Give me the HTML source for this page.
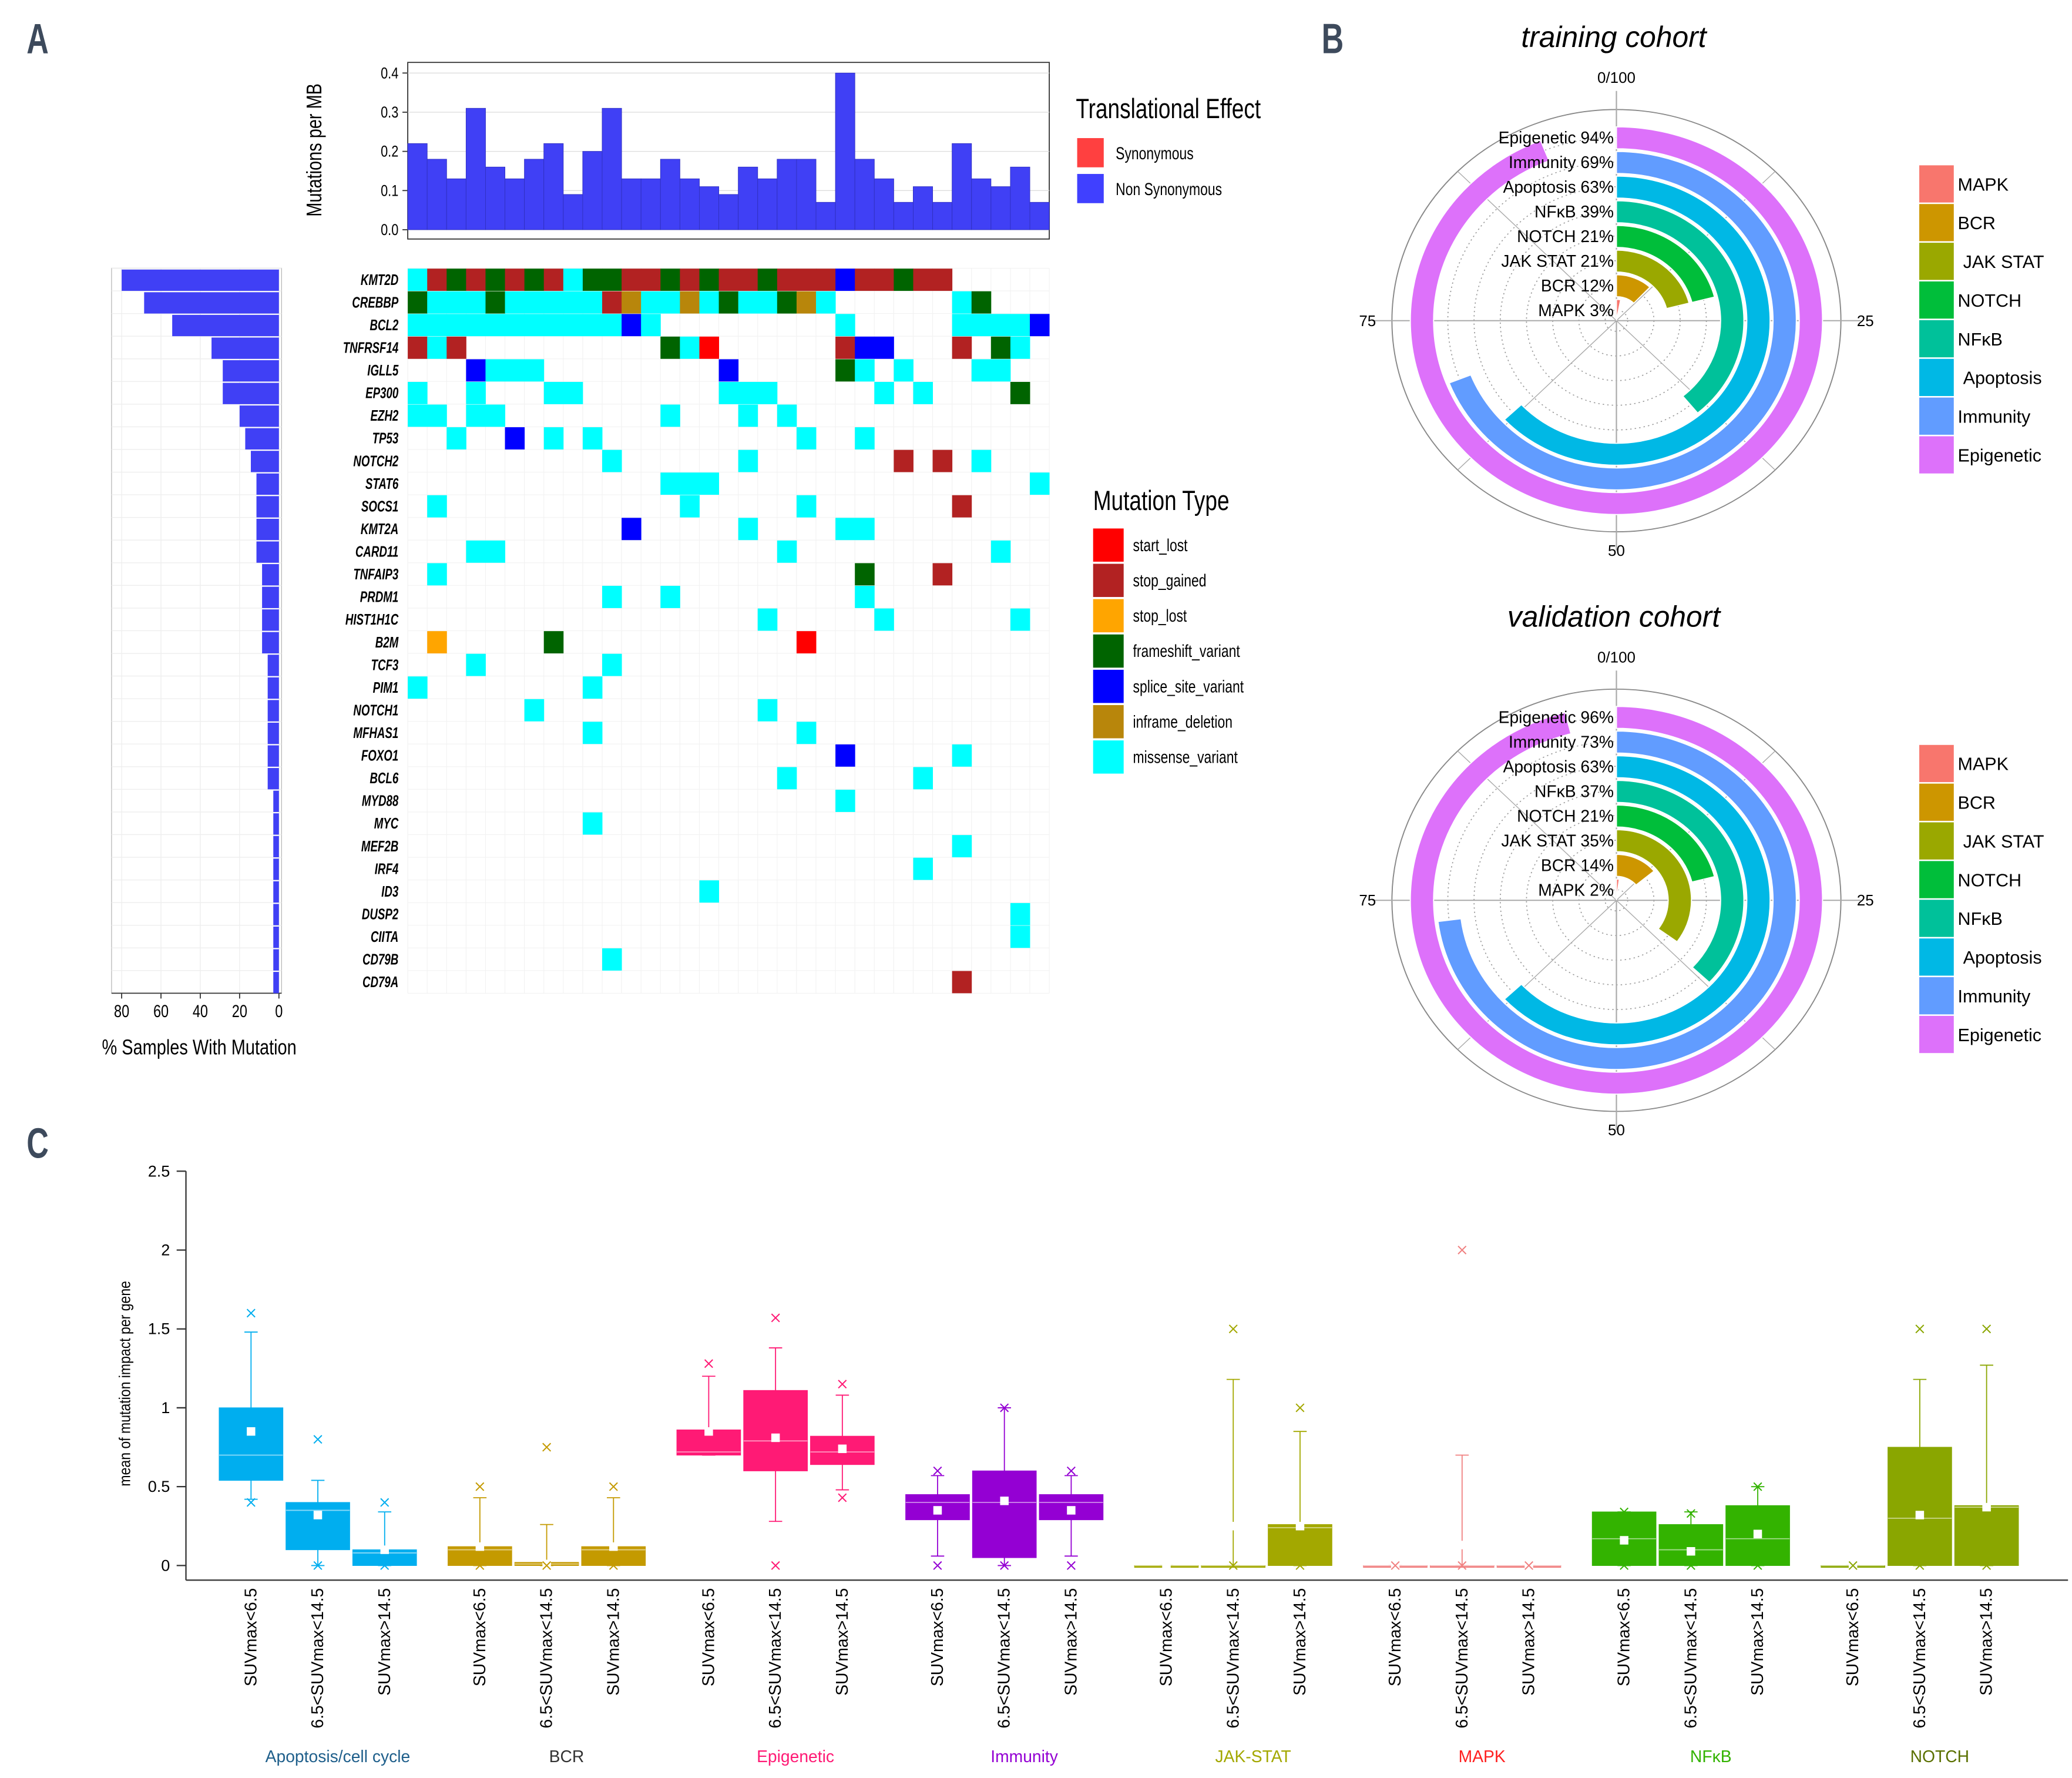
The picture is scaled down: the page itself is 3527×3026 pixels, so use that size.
<!DOCTYPE html>
<html><head><meta charset="utf-8"><style>
html,body{margin:0;padding:0;background:#fff}
svg{display:block}
text{font-family:"Liberation Sans",sans-serif}
</style></head><body>
<svg id="fig" xmlns="http://www.w3.org/2000/svg" width="3527" height="3026" viewBox="0 0 1560 1339" preserveAspectRatio="none">
<g fill="#3d4a5c" font-weight="bold" font-size="32">
<text transform="translate(20,40) scale(0.72,1)">A</text>
<text transform="translate(995,40) scale(0.72,1)">B</text>
<text transform="translate(20,872) scale(0.72,1)">C</text>
</g>
<g id="pA"></g>
<g id="pB"></g>
<g id="pC"></g>
</svg>
<script>
// ---------- Panel A data ----------
const genes=["KMT2D","CREBBP","BCL2","TNFRSF14","IGLL5","EP300","EZH2","TP53","NOTCH2","STAT6","SOCS1","KMT2A","CARD11","TNFAIP3","PRDM1","HIST1H1C","B2M","TCF3","PIM1","NOTCH1","MFHAS1","FOXO1","BCL6","MYD88","MYC","MEF2B","IRF4","ID3","DUSP2","CIITA","CD79B","CD79A"];
const mutRows=[
"MSFSFSFSMFFSSFSFSSFSSSPSSFSS.....",
"FMMMFMMMMMSIMMIMFMMFIM......MF...",
"MMMMMMMMMMMPM.........M.....MMMMP",
"SMS..........FML......SPP...S.FM.",
"...PMMM.........P.....FM.M...MM..",
"M..M...MM.......MMM.....M.M....F.",
"MM.MM........M...M.M.............",
"..M..P.M.M..........M..M.........",
"..........M......M.......S.S.M...",
".............MMM................M",
".M............M.....M.......S....",
"...........P.....M....MM.........",
"...MM..............M..........M..",
".M.....................F...S.....",
"..........M..M.........M.........",
"..................M.....M......M.",
".O.....F............L............",
"...M......M......................",
"M........M.......................",
"......M...........M..............",
".........M..........M............",
"......................P.....M....",
"...................M......M......",
"......................M..........",
".........M.......................",
"............................M....",
"..........................M......",
"...............M.................",
"...............................M.",
"...............................M.",
"..........M......................",
"............................S...."];
const tmbValues=[0.22,0.18,0.13,0.31,0.16,0.13,0.18,0.22,0.09,0.2,0.31,0.13,0.13,0.18,0.13,0.11,0.09,0.16,0.13,0.18,0.18,0.07,0.4,0.18,0.13,0.07,0.11,0.07,0.22,0.13,0.11,0.16,0.07];
const tmbTicks=[0.0,0.1,0.2,0.3,0.4];
const pctTicks=[80,60,40,20,0];
const nSamples=35;
const mutTypes=["start_lost","stop_gained","stop_lost","frameshift_variant","splice_site_variant","inframe_deletion","missense_variant"];
const mutCodes=["L","S","O","F","P","I","M"];
const mutColors=["#ff0000","#b22222","#ffa500","#006400","#0000ff","#b8860b","#00ffff"];

// ---------- Panel B data ----------
const pathways=["MAPK","BCR","JAK STAT","NOTCH","NFκB","Apoptosis","Immunity","Epigenetic"];
const pathColors=["#f8766d","#cd9600","#9aa800","#00be3a","#00c19a","#00b8e5","#619cff","#dd71fa"];
const trainingPct=[3,12,21,21,39,63,69,94];
const validationPct=[2,14,35,21,37,63,73,96];

// ---------- Panel C data ----------
const groups=["Apoptosis/cell cycle","BCR","Epigenetic","Immunity","JAK-STAT","MAPK","NFκB","NOTCH"];
const groupColors=["#00aeef","#c49a00","#ff1a75","#9400d3","#a3a800","#f08080","#33b300","#8aa600"];
const groupTextColors=["#1f5f8b","#333333","#ff1a75","#9400d3","#a3a800","#ff2020","#33b300","#5a7000"];
const subgroups=["SUVmax<6.5","6.5<SUVmax<14.5","SUVmax>14.5"];
const boxQ1=[0.54,0.1,0,  0,0,0,  0.7,0.6,0.64,  0.29,0.05,0.29,  0,0,0,  0,0,0,  0,0,0,  0,0,0];
const boxMed=[0.7,0.35,0.08,  0.1,0.01,0.1,  0.72,0.79,0.72,  0.4,0.4,0.4,  0,0,0.24,  0,0,0,  0.17,0.1,0.17,  0,0.3,0.37];
const boxQ3=[1.0,0.4,0.1,  0.12,0.02,0.12,  0.86,1.11,0.82,  0.45,0.6,0.45,  0,0,0.26,  0,0,0,  0.34,0.26,0.38,  0,0.75,0.38];
const whiskLo=[0.42,0,0,  0,0,0,  0.7,0.28,0.48,  0.06,0,0.06,  0,0,0,  0,0,0,  0,0,0,  0,0,0];
const whiskHi=[1.48,0.54,0.34,  0.43,0.26,0.43,  1.2,1.38,1.08,  0.57,1.0,0.57,  0,1.18,0.85,  0,0.7,0,  0.34,0.34,0.5,  0,1.18,1.27];
const boxMean=[0.85,0.32,0.1,  0.12,0.01,0.12,  0.85,0.81,0.74,  0.35,0.41,0.35,  0,0.25,0.25,  0,0.13,0,  0.16,0.09,0.2,  0,0.32,0.37];
const outHi=[1.6,0.8,0.4,  0.5,0.75,0.5,  1.28,1.57,1.15,  0.6,1.0,0.6,  null,1.5,1.0,  null,2.0,null,  0.34,0.33,0.5,  null,1.5,1.5];
const outLo=[0.4,0,0,  0,0,0,  null,0,0.43,  0,0,0,  null,0,0,  0,0,0,  0,0,0,  0,0,0];
const yTicksC=[0,0.5,1,1.5,2,2.5];

const NS="http://www.w3.org/2000/svg";
function mk(parent,tag,attrs,txt){const e=document.createElementNS(NS,tag);for(const k in attrs)e.setAttribute(k,attrs[k]);if(txt!==undefined)e.textContent=txt;parent.appendChild(e);return e;}
// narrow text: horizontally condensed
function mkN(parent,x,y,attrs,txt,sx,rot){attrs=Object.assign({},attrs);attrs.x=0;attrs.y=0;attrs.transform=`translate(${x},${y})`+(rot?` rotate(${rot})`:'')+` scale(${sx||0.8},1)`;return mk(parent,'text',attrs,txt);}

// ================= PANEL A =================
(function(){
const g=document.getElementById('pA');
const gx0=307,gx1=790,gy0=202,gy1=748,nC=33,nR=genes.length;
const cw=(gx1-gx0)/nC, rh=(gy1-gy0)/nR;
const ty0=173, tyS=295; const ty=v=>ty0-v*tyS;
let frame=mk(g,'rect',{x:gx0,y:47,width:gx1-gx0,height:133,fill:'#fff',stroke:'#333','stroke-width':0.8});

tmbTicks.forEach(t=>{
 let l=mk(g,'line',{x1:gx0,x2:gx1,y1:ty(t),y2:ty(t),stroke:'#ddd','stroke-width':0.6});
 
 let tk=mk(g,'line',{x1:gx0-4,x2:gx0,y1:ty(t),y2:ty(t),stroke:'#333','stroke-width':0.8});
 
 let tx=mkN(g,gx0-7,ty(t)+4,{'font-size':12,'text-anchor':'end'},t.toFixed(1),0.8);
 
});
tmbValues.forEach((v,i)=>{
 let b=mk(g,'rect',{x:gx0+i*cw,y:ty(v),width:cw,height:v*tyS,fill:'#4040f5',stroke:'#3030c0','stroke-width':0.4});
 
});
let yl=mkN(g,242,113,{'font-size':16,'text-anchor':'middle'},'Mutations per MB',0.8,-90);


for(let r=0;r<=nR;r++){let l=mk(g,'line',{x1:gx0,x2:gx1,y1:gy0+r*rh,y2:gy0+r*rh,stroke:'#f2f2f2','stroke-width':0.5});}
for(let c=0;c<=nC;c++){let l=mk(g,'line',{x1:gx0+c*cw,x2:gx0+c*cw,y1:gy0,y2:gy1,stroke:'#f2f2f2','stroke-width':0.5});}
const counts=[];
mutRows.forEach((row,r)=>{
 let n=0;
 for(let c=0;c<nC;c++){
  const ch=row[c]||'.'; const k=mutCodes.indexOf(ch);
  if(k<0)continue; n++;
  let cell=mk(g,'rect',{x:gx0+c*cw,y:gy0+r*rh+0.3,width:cw+0.2,height:rh-0.3,fill:mutColors[k]});
  
 }
 counts.push(n);
 let gl=mkN(g,gx0-7,gy0+r*rh+rh/2+4,{'font-size':11.5,'text-anchor':'end','font-style':'italic','font-weight':'bold'},genes[r],0.72);
 
});
const lx0=210, lxS=1.48, lx=v=>lx0-v*lxS;
let lf=mk(g,'rect',{x:84,y:gy0,width:128,height:gy1-gy0,fill:'#fff',stroke:'#bbb','stroke-width':0.6});

for(let r=0;r<=nR;r++){let l=mk(g,'line',{x1:84,x2:212,y1:gy0+r*rh,y2:gy0+r*rh,stroke:'#eee','stroke-width':0.6});}
pctTicks.forEach(t=>{
 let l=mk(g,'line',{x1:lx(t),x2:lx(t),y1:gy0,y2:gy1,stroke:'#eee','stroke-width':0.6});
 let tk=mk(g,'line',{x1:lx(t),x2:lx(t),y1:gy1,y2:gy1+4,stroke:'#333','stroke-width':0.8});
 let tx=mkN(g,lx(t),gy1+18,{'font-size':13,'text-anchor':'middle'},String(t),0.8);
});
let ax=mk(g,'line',{x1:84,x2:212,y1:gy1,y2:gy1,stroke:'#333','stroke-width':0.8});
counts.forEach((n,r)=>{
 const p=n/nSamples*100;
 let b=mk(g,'rect',{x:lx(p),y:gy0+r*rh+1,width:p*lxS,height:rh-1,fill:'#4040f5'});
 
});
let pt=mkN(g,150,794,{'font-size':16,'text-anchor':'middle'},'% Samples With Mutation',0.8);

let l1=mkN(g,810,89,{'font-size':21},'Translational Effect',0.78);
[["Synonymous","#ff4040",104],["Non Synonymous","#4040ff",131]].forEach(e=>{
 let s=mk(g,'rect',{x:811,y:e[2],width:20,height:22,fill:e[1]});
 let t=mkN(g,840,e[2]+16,{'font-size':13},e[0],0.78);
});
let l2=mkN(g,823,384,{'font-size':21},'Mutation Type',0.78);
mutTypes.forEach((m,i)=>{
 const y=398+i*26.6;
 let s=mk(g,'rect',{x:823,y:y,width:23,height:25,fill:mutColors[i]});
 let t=mkN(g,853,y+17,{'font-size':13},m,0.78);
});
})();

// ================= PANEL B =================
function polar(cy,vals,title){
 const g=document.getElementById('pB');
 const cx=1217, sx=1.063, R=159;
 const wrap=mk(g,'g',{});
 let tt=mk(wrap,'text',{x:1215,y:cy-206,'font-size':22,'font-style':'italic','text-anchor':'middle','font-family':'DejaVu Sans, sans-serif'},title);
 
 const pg=mk(wrap,'g',{transform:`translate(${cx},${cy}) scale(${sx},1)`});
 
 let oc=mk(pg,'circle',{cx:0,cy:0,r:R,fill:'none',stroke:'#888','stroke-width':0.8});
 const outer=i=>16+i*18.57, inner=i=>Math.max(0.5,outer(i)-16.5);
 for(let i=0;i<8;i++){let c=mk(pg,'circle',{cx:0,cy:0,r:outer(i)-8,fill:'none',stroke:'#999','stroke-width':0.7,'stroke-dasharray':'1 2.2'});}
 for(let k=0;k<8;k++){const a=k*Math.PI/4;let l=mk(pg,'line',{x1:0,y1:0,x2:Math.sin(a)*(R+(k%2?0:14)),y2:-Math.cos(a)*(R+(k%2?0:14)),stroke:'#aaa','stroke-width':k%2?0.6:0.9});}
 vals.forEach((v,i)=>{
  const a=v/100*2*Math.PI, ro=outer(i), ri=inner(i), lg=v>50?1:0;
  const p=`M0,${-ro} A${ro},${ro} 0 ${lg} 1 ${ro*Math.sin(a)},${-ro*Math.cos(a)} L${ri*Math.sin(a)},${-ri*Math.cos(a)} A${ri},${ri} 0 ${lg} 0 0,${-ri} Z`;
  let arc=mk(pg,'path',{d:p,fill:pathColors[i],stroke:'#fff','stroke-width':0.8});
  
  let lb=mk(wrap,'text',{x:1215,y:cy-(outer(i)-8)+4.5,'font-size':12.5,'text-anchor':'end','font-family':'DejaVu Sans, sans-serif'},pathways[i]+' '+v+'%');
  
 });
 [["0/100",cx,cy-R-20,'middle'],["25",cx+R*sx+12,cy+4,'start'],["50",cx,cy+R+18,'middle'],["75",cx-R*sx-12,cy+4,'end']].forEach(t=>{
  let e=mk(wrap,'text',{x:t[1],y:t[2],'font-size':11.5,'text-anchor':t[3],'font-family':'DejaVu Sans, sans-serif'},t[0]);
  
 });
 const ly=cy-117;
 for(let i=0;i<8;i++){
  let s=mk(wrap,'rect',{x:1445,y:ly+i*29.15,width:26,height:28,fill:pathColors[i]});
  let t=mk(wrap,'text',{x:(i==2||i==5)?1478:1474,y:ly+i*29.15+19,'font-size':13.5,'font-family':'DejaVu Sans, sans-serif'},pathways[i]);
 }
}
polar(241.5,trainingPct,'training cohort');
polar(678,validationPct,'validation cohort');

// ================= PANEL C =================
(function(){
 const g=document.getElementById('pC');
 const y0=1179, yS=118.8, Y=v=>y0-v*yS;
 const X=(gi,si)=>189+gi*172.3+si*50.3;
 let ya=mk(g,'line',{x1:140,x2:140,y1:Y(2.5),y2:1190,stroke:'#333','stroke-width':1});
 let xa=mk(g,'line',{x1:140,x2:1557,y1:1190,y2:1190,stroke:'#333','stroke-width':1});
 yTicksC.forEach(t=>{
  let tk=mk(g,'line',{x1:133,x2:140,y1:Y(t),y2:Y(t),stroke:'#333','stroke-width':1});
  let tx=mk(g,'text',{x:128,y:Y(t)+4,'font-size':12,'text-anchor':'end'},String(t));
 });
 let yt=mkN(g,98,1042,{'font-size':12,'text-anchor':'middle'},'mean of mutation impact per gene',0.85,-90);
 
 const hw=24;
 groups.forEach((gn,gi)=>{
  const col=groupColors[gi];
  subgroups.forEach((sn,si)=>{
   const k=gi*3+si, x=X(gi,si);
   const bg=mk(g,'g',{});
   let w1=mk(bg,'line',{x1:x,x2:x,y1:Y(boxQ3[k]),y2:Y(whiskHi[k]),stroke:col,'stroke-width':0.8});
   let c1=mk(bg,'line',{x1:x-5,x2:x+5,y1:Y(whiskHi[k]),y2:Y(whiskHi[k]),stroke:col,'stroke-width':0.8});
   let w2=mk(bg,'line',{x1:x,x2:x,y1:Y(boxQ1[k]),y2:Y(whiskLo[k]),stroke:col,'stroke-width':0.8});
   let c2=mk(bg,'line',{x1:x-5,x2:x+5,y1:Y(whiskLo[k]),y2:Y(whiskLo[k]),stroke:col,'stroke-width':0.8});
   const h=Math.max(1.4,Y(boxQ1[k])-Y(boxQ3[k]));
   let bx=mk(bg,'rect',{x:x-hw,y:Y(boxQ3[k]),width:hw*2,height:h,fill:col,stroke:col,'stroke-width':0.5});
   let md=mk(bg,'line',{x1:x-hw,x2:x+hw,y1:Y(boxMed[k]),y2:Y(boxMed[k]),stroke:'#fff','stroke-opacity':0.55,'stroke-width':0.8});
   let mn=mk(bg,'rect',{x:x-3.2,y:Y(boxMean[k])-3.2,width:6.4,height:6.4,fill:'#fff'});
   [outHi[k],outLo[k]].forEach(o=>{
    if(o===null)return;
    let xm=mk(bg,'path',{d:`M${x-3},${Y(o)-3}L${x+3},${Y(o)+3}M${x-3},${Y(o)+3}L${x+3},${Y(o)-3}`,stroke:col,'stroke-width':0.9,fill:'none'});
    
   });
   let tl=mk(g,'text',{x:0,y:0,'font-size':12.5,'text-anchor':'end',transform:`translate(${x+4},1196) rotate(-90)`},sn);
   
  });
  let gl=mk(g,'text',{x:X(gi,1)+15,y:1327,'font-size':12.5,'text-anchor':'middle',fill:groupTextColors[gi]},gn);
  
 });
})();
</script>
</body></html>
